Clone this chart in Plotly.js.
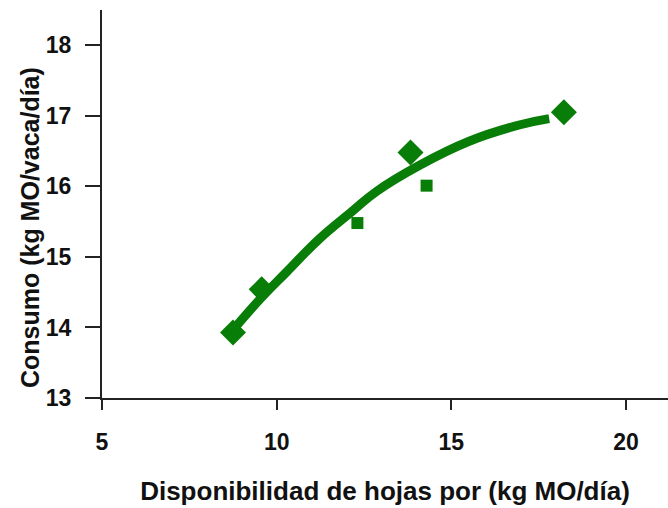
<!DOCTYPE html>
<html>
<head>
<meta charset="utf-8">
<script src="https://cdn.plot.ly/plotly-3.0.1.min.js"></script>
<style>html,body{margin:0;padding:0;background:#fff;}#chart{width:668px;height:508px;}</style>
</head>
<body>
<div id="chart"></div>
<script>
// Observed data points
const diamondX = [8.75, 9.57, 13.83, 18.22];
const diamondY = [13.93, 14.54, 16.48, 17.05];
const squareX = [12.31, 14.29];
const squareY = [15.48, 16.01];
// Trend curve
const curveX = [8.74, 9.5, 10.29, 11.23, 12.17, 12.86, 14.09, 15.51, 16.94, 17.8];
const curveY = [13.96, 14.39, 14.79, 15.26, 15.65, 15.93, 16.30, 16.64, 16.87, 16.96];
// Axis ticks
const xTicks = [5, 10, 15, 20];
const yTicks = [13, 14, 15, 16, 17, 18];
// Titles
const xTitle = 'Disponibilidad de hojas por (kg MO/día)';
const yTitle = 'Consumo (kg MO/vaca/día)';

const green = '#087d08';
const font = 'Liberation Sans, Arial, sans-serif';

const traces = [
  {x: curveX, y: curveY, mode: 'lines', type: 'scatter',
   line: {color: green, width: 9, shape: 'spline', smoothing: 1.2}, hoverinfo: 'skip'},
  {x: diamondX, y: diamondY, mode: 'markers', type: 'scatter',
   marker: {symbol: 'diamond', size: 20, color: green}},
  {x: squareX, y: squareY, mode: 'markers', type: 'scatter',
   marker: {symbol: 'square', size: 12, color: green}}
];

const layout = {
  width: 668, height: 508,
  margin: {l: 102, r: 0, t: 10, b: 110},
  paper_bgcolor: '#fff', plot_bgcolor: '#fff',
  showlegend: false,
  font: {family: font, color: '#111'},
  xaxis: {
    range: [5, 21.2], tickvals: xTicks, ticktext: xTicks.map(String),
    showgrid: false, zeroline: false, showline: true, linecolor: '#222', linewidth: 2,
    ticks: 'outside', ticklen: 10, tickwidth: 2, tickcolor: '#222',
    ticklabelstandoff: 12,
    tickfont: {family: font, size: 23, color: '#111', weight: 'bold'},
    title: {text: '<b>' + xTitle + '</b>', standoff: 28,
            font: {family: font, size: 26, color: '#111'}}
  },
  yaxis: {
    range: [13, 18.5], tickvals: yTicks, ticktext: yTicks.map(String),
    showgrid: false, zeroline: false, showline: true, linecolor: '#222', linewidth: 2,
    ticks: 'outside', ticklen: 15, tickwidth: 2, tickcolor: '#222',
    ticklabelstandoff: 9,
    tickfont: {family: font, size: 23, color: '#111', weight: 'bold'}
  },
  annotations: [{
    text: '<b>' + yTitle + '</b>', textangle: -90, showarrow: false,
    xref: 'paper', yref: 'paper', x: 0, y: 0.438, xanchor: 'center', yanchor: 'middle',
    xshift: -72, font: {family: font, size: 25, color: '#111'}
  }]
};

Plotly.newPlot('chart', traces, layout, {displayModeBar: false, staticPlot: true});
</script>
</body>
</html>
